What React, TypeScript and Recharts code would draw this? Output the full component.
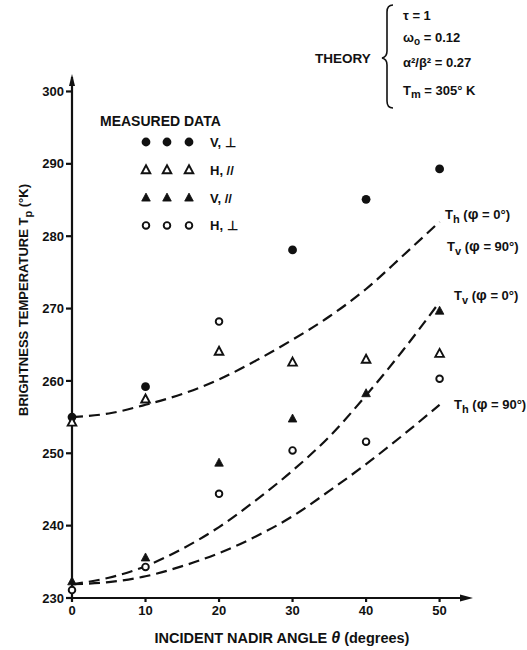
import React from 'react';
import { ComposedChart, Line, Scatter, XAxis, YAxis, ReferenceDot } from 'recharts';

// theory curves, read every 5 degrees
const curveTheta = [0, 5, 10, 15, 20, 25, 30, 35, 40, 45, 50];
const thPhi0 = [255.0, 255.5, 256.7, 258.2, 260.2, 262.8, 265.7, 268.9, 272.7, 277.3, 282.0];
const tvPhi0 = [231.9, 232.8, 234.4, 236.8, 239.8, 243.5, 247.6, 252.3, 258.0, 264.2, 270.9];
const thPhi90 = [231.9, 232.2, 233.0, 234.4, 236.2, 238.5, 241.3, 244.8, 248.5, 252.5, 256.7];

// measured data
const vPerpTheta = [0, 10, 30, 40, 50];
const vPerpT = [255.0, 259.2, 278.1, 285.1, 289.3];
const hParTheta = [0, 10, 20, 30, 40, 50];
const hParT = [254.3, 257.5, 264.1, 262.6, 263.0, 263.8];
const vParTheta = [0, 10, 20, 30, 40, 50];
const vParT = [232.3, 235.6, 248.7, 254.8, 258.3, 269.7];
const hPerpTheta = [0, 10, 20, 20, 30, 40, 50];
const hPerpT = [231.1, 234.3, 244.4, 268.2, 250.4, 251.6, 260.3];

const xTicks = [0, 10, 20, 30, 40, 50];
const yTicks = [230, 240, 250, 260, 270, 280, 290, 300];

const toPoints = (xs: number[], ys: number[]) => xs.map((theta, i) => ({ theta, t: ys[i] }));

const FONT = '"Liberation Sans", Arial, sans-serif';
const INK = '#111';

const FilledCircle = (p: any) => <circle cx={p.cx} cy={p.cy} r={4.4} fill={INK} />;
const OpenCircle = (p: any) => <circle cx={p.cx} cy={p.cy} r={3.3} fill="#fff" stroke={INK} strokeWidth={1.9} />;
const tri = (cx: number, cy: number) => `M${cx},${cy - 4.5} L${cx + 4.3},${cy + 3.5} L${cx - 4.3},${cy + 3.5} Z`;
const FilledTri = (p: any) => <path d={tri(p.cx, p.cy)} fill={INK} stroke={INK} strokeWidth={0.8} />;
const OpenTri = (p: any) => <path d={tri(p.cx, p.cy)} fill="#fff" stroke={INK} strokeWidth={1.9} />;

const ArrowRight = (p: any) => <path d={`M${p.cx + 4},${p.cy} L${p.cx - 9},${p.cy - 3.5} L${p.cx - 9},${p.cy + 3.5} Z`} fill={INK} />;
const ArrowUp = (p: any) => <path d={`M${p.cx},${p.cy - 3} L${p.cx - 3},${p.cy + 9} L${p.cx + 3},${p.cy + 9} Z`} fill={INK} />;

const legendRows = [
  { label: 'V, ⊥', Icon: FilledCircle },
  { label: 'H, //', Icon: OpenTri },
  { label: 'V, //', Icon: FilledTri },
  { label: 'H, ⊥', Icon: OpenCircle },
];

const CurveLabel = ({ x, y, sub, phi }: { x: number; y: number; sub: string; phi: string }) => (
  <text x={x} y={y} fontSize={13} fontWeight="bold" fill={INK} fontFamily={FONT}>
    T<tspan dy={4} fontSize={11}>{sub}</tspan>
    <tspan dy={-4}> (</tspan>
    <tspan fontSize={15}>φ</tspan>
    <tspan> = {phi}°)</tspan>
  </text>
);

export default function App() {
  return (
    <div style={{ position: 'absolute', left: 0, top: 0, width: 527, height: 650, background: '#fff' }}>
      <ComposedChart
        width={527}
        height={650}
        margin={{ top: 77, right: 58, bottom: 0, left: 0 }}
        style={{ position: 'absolute', left: 0, top: 0 }}
      >
        <XAxis
          type="number"
          dataKey="theta"
          domain={[0, 54]}
          ticks={xTicks}
          height={52}
          stroke={INK}
          strokeWidth={2.2}
          tickSize={4}
          tickMargin={4}
          tick={{ fill: INK, fontSize: 13, fontWeight: 'bold', fontFamily: FONT }}
          allowDuplicatedCategory={false}
        />
        <YAxis
          type="number"
          domain={[230, 302]}
          ticks={yTicks}
          width={72}
          stroke={INK}
          strokeWidth={2.2}
          tickSize={6}
          tickMargin={2}
          tick={{ fill: INK, fontSize: 13, fontWeight: 'bold', fontFamily: FONT }}
        />
        <Line data={toPoints(curveTheta, thPhi0)} dataKey="t" type="monotone" stroke={INK} strokeWidth={2.2} strokeDasharray="11 6" dot={false} isAnimationActive={false} />
        <Line data={toPoints(curveTheta, tvPhi0)} dataKey="t" type="monotone" stroke={INK} strokeWidth={2.2} strokeDasharray="11 6" dot={false} isAnimationActive={false} />
        <Line data={toPoints(curveTheta, thPhi90)} dataKey="t" type="monotone" stroke={INK} strokeWidth={2.2} strokeDasharray="11 6" dot={false} isAnimationActive={false} />
        <Scatter data={toPoints(vPerpTheta, vPerpT)} dataKey="t" shape={FilledCircle} isAnimationActive={false} />
        <Scatter data={toPoints(hParTheta, hParT)} dataKey="t" shape={OpenTri} isAnimationActive={false} />
        <Scatter data={toPoints(vParTheta, vParT)} dataKey="t" shape={FilledTri} isAnimationActive={false} />
        <Scatter data={toPoints(hPerpTheta, hPerpT)} dataKey="t" shape={OpenCircle} isAnimationActive={false} />
        <ReferenceDot x={54} y={230} ifOverflow="visible" shape={ArrowRight} />
        <ReferenceDot x={0} y={302} ifOverflow="visible" shape={ArrowUp} />
      </ComposedChart>

      <svg width={527} height={650} style={{ position: 'absolute', left: 0, top: 0, pointerEvents: 'none' }}>
        {/* axis titles */}
        <text x={282} y={643} textAnchor="middle" fontSize={14.5} fontWeight="bold" fill={INK} fontFamily={FONT}>
          INCIDENT NADIR ANGLE <tspan fontStyle="italic" fontSize={16}>θ</tspan> (degrees)
        </text>
        <text transform="translate(28,300) rotate(-90)" textAnchor="middle" fontSize={13} fontWeight="bold" fill={INK} fontFamily={FONT}>
          BRIGHTNESS TEMPERATURE T<tspan dy={4} fontSize={11}>p</tspan><tspan dy={-4}> (°K)</tspan>
        </text>

        {/* theory parameters */}
        <text x={315} y={63} fontSize={13.5} fontWeight="bold" fill={INK} fontFamily={FONT}>THEORY</text>
        <path d="M393,5 Q387,5 387,12 L387,51 Q387,57 382,58 Q387,59 387,65 L387,101 Q387,108 393,108" fill="none" stroke={INK} strokeWidth={1.6} />
        <g fontSize={13} fontWeight="bold" fill={INK} fontFamily={FONT}>
          <text x={403} y={20}>τ = 1</text>
          <text x={403} y={42}>ω<tspan dy={3} fontSize={10}>o</tspan><tspan dy={-3}> = 0.12</tspan></text>
          <text x={403} y={67}>α²/β² = 0.27</text>
          <text x={403} y={95}>T<tspan dy={3} fontSize={11}>m</tspan><tspan dy={-3}> = 305° K</tspan></text>
        </g>

        {/* legend */}
        <text x={100} y={126} fontSize={14} fontWeight="bold" fill={INK} fontFamily={FONT}>MEASURED DATA</text>
        {legendRows.map((row, i) => {
          const cy = 142 + i * 27.8;
          return (
            <g key={row.label}>
              {[146, 167, 189].map((cx) => (
                <row.Icon key={cx} cx={cx} cy={cy} />
              ))}
              <text x={210} y={cy + 5} fontSize={13} fontWeight="bold" fill={INK} fontFamily={FONT}>{row.label}</text>
            </g>
          );
        })}

        {/* curve labels */}
        <CurveLabel x={445} y={219} sub="h" phi="0" />
        <CurveLabel x={447} y={251} sub="v" phi="90" />
        <CurveLabel x={454} y={300} sub="v" phi="0" />
        <CurveLabel x={454} y={409} sub="h" phi="90" />
      </svg>
    </div>
  );
}
